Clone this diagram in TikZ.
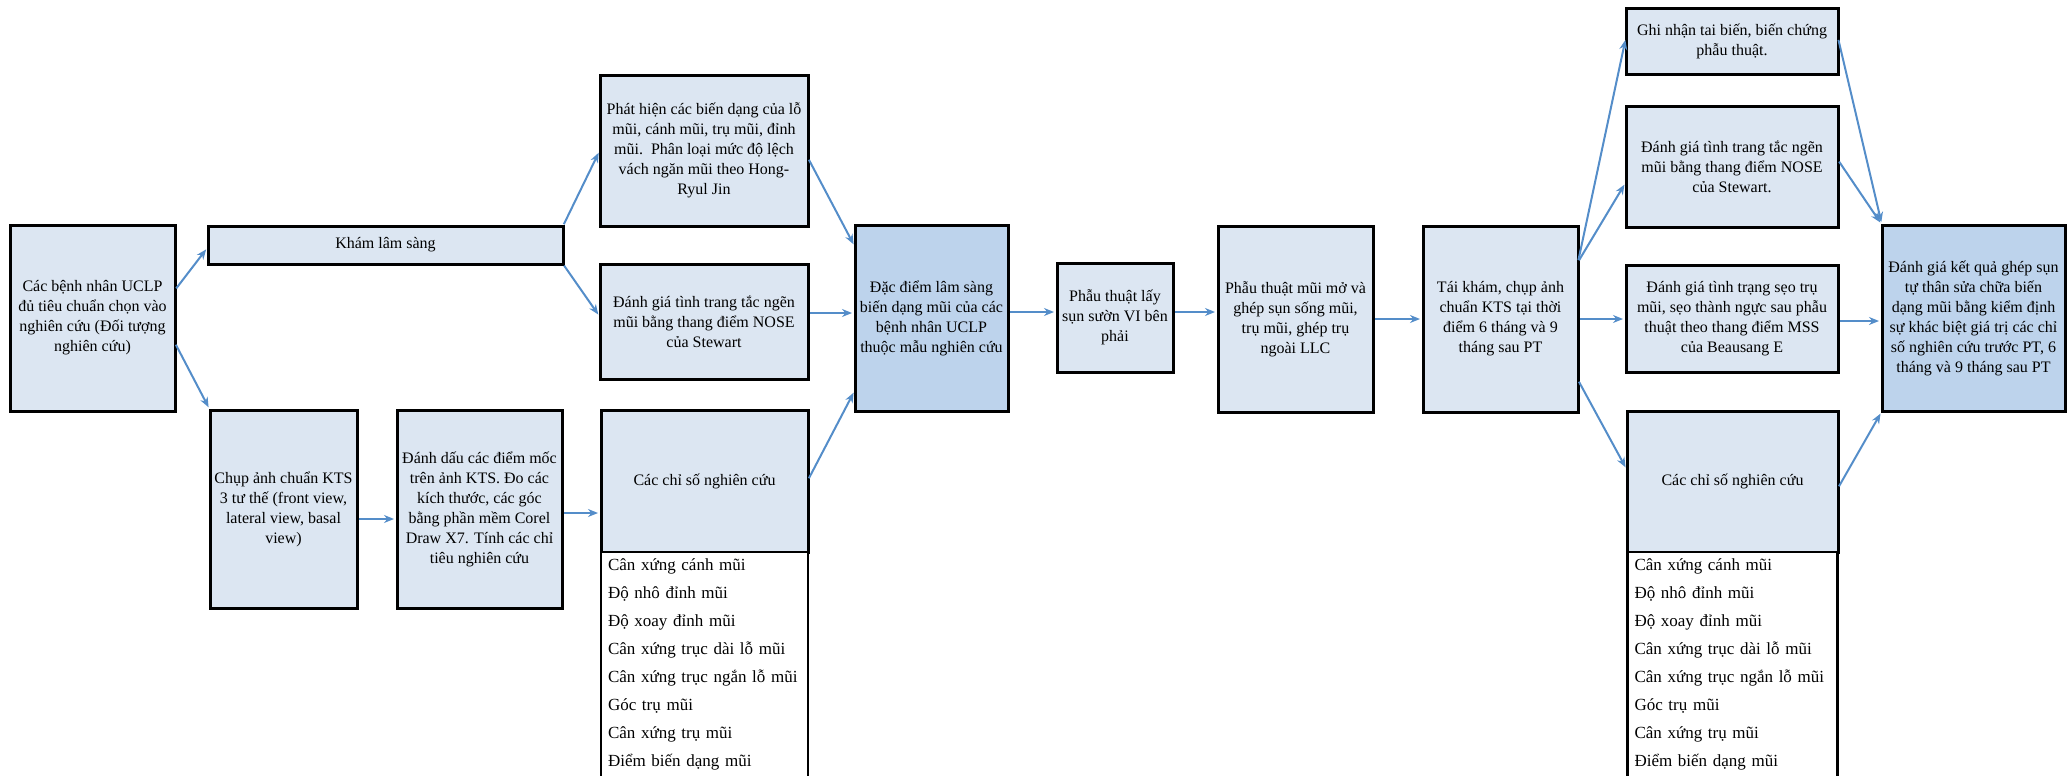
\documentclass[tikz,border=0pt]{standalone}
\usepackage{fontspec}
\setmainfont{Liberation Serif}
\usetikzlibrary{arrows.meta,positioning}
\definecolor{boxblue}{RGB}{220,230,242}
\definecolor{boxdark}{RGB}{189,211,236}
\definecolor{arrblue}{RGB}{84,141,201}

\begin{document}
\begin{tikzpicture}[x=0.5pt, y=-0.5pt,
    >={Stealth[length=5pt,width=4pt]},
    hop/.style={draw, line width=1.5pt, fill=boxblue, align=center, inner sep=1pt,
        outer sep=0pt, font=\fontsize{8}{10}\selectfont},
    dark/.style={hop, fill=boxdark},
    sz/.style 2 args={minimum width=#1*0.5pt, minimum height=#2*0.5pt},
    liste/.style={draw, line width=1.2pt, fill=white, align=left, outer sep=0pt,
        inner xsep=3.5pt, text width=96.5pt, minimum height=111.5pt,
        font=\fontsize{8.5}{14}\selectfont},
    arr/.style={->, arrblue, line width=1pt, shorten >=1.5pt, shorten <=1pt}]

    \useasboundingbox (0,0) rectangle (2069,776);

    % dau vao
    \node[hop, sz={165}{186}] (benhnhan) at (92.5,318)
        {Các bệnh nhân UCLP\\đủ tiêu chuẩn chọn vào\\nghiên cứu (Đối tượng\\nghiên cứu)};
    \node[hop, sz={355}{38}] (kham) at (385.5,245) {Khám lâm sàng};
    \node[hop, sz={147}{198}] (chup) at (283.5,509)
        {Chụp ảnh chuẩn KTS\\3 tư thế (front view,\\lateral view, basal\\view)};
    \node[hop, sz={165}{198}] (danhdau) at (479.5,509)
        {Đánh dấu các điểm mốc\\trên ảnh KTS. Đo các\\kích thước, các góc\\bằng phần mềm Corel\\Draw X7. Tính các chỉ\\tiêu nghiên cứu};

    % truoc phau thuat
    \node[hop, sz={208}{151}] (phathien) at (704,150.5)
        {Phát hiện các biến dạng của lỗ\\mũi, cánh mũi, trụ mũi, đỉnh\\mũi.\ \ Phân loại mức độ lệch\\vách ngăn mũi theo Hong-\\Ryul Jin};
    \node[hop, sz={208}{115}] (nose1) at (704,321.5)
        {Đánh giá tình trang tắc ngẽn\\mũi bằng thang điểm NOSE\\của Stewart};
    \node[hop, sz={207}{142}] (chiso1) at (704.5,481) {Các chỉ số nghiên cứu};
    \node[liste, below=0pt of chiso1] (ds1)
        {Cân xứng cánh mũi\\Độ nhô đỉnh mũi\\Độ xoay đỉnh mũi\\Cân xứng trục dài lỗ mũi\\Cân xứng trục ngắn lỗ mũi\\Góc trụ mũi\\Cân xứng trụ mũi\\Điểm biến dạng mũi};
    \node[dark, sz={153}{186}] (dacdiem) at (931.5,318)
        {Đặc điểm lâm sàng\\biến dạng mũi của các\\bệnh nhân UCLP\\thuộc mẫu nghiên cứu};

    % phau thuat
    \node[hop, sz={116}{109}] (laysun) at (1115,317.5)
        {Phẫu thuật lấy\\sụn sườn VI bên\\phải};
    \node[hop, sz={155}{186}] (mumo) at (1295.5,319)
        {Phẫu thuật mũi mở và\\ghép sụn sống mũi,\\trụ mũi, ghép trụ\\ngoài LLC};
    \node[hop, sz={155}{186}] (taikham) at (1500.5,319)
        {Tái khám, chụp ảnh\\chuẩn KTS tại thời\\điểm 6 tháng và 9\\tháng sau PT};

    % sau phau thuat
    \node[hop, sz={212}{66}] (ghinhan) at (1732,41)
        {Ghi nhận tai biến, biến chứng\\phẫu thuật.};
    \node[hop, sz={212}{121}] (nose2) at (1732,166.5)
        {Đánh giá tình trang tắc ngẽn\\mũi bằng thang điểm NOSE\\của Stewart.};
    \node[hop, sz={212}{107}] (mss) at (1732,318.5)
        {Đánh giá tình trạng sẹo trụ\\mũi, sẹo thành ngực sau phẫu\\thuật theo thang điểm MSS\\của Beausang E};
    \node[hop, sz={211}{141}] (chiso2) at (1732.5,481.5) {Các chỉ số nghiên cứu};
    \node[liste, text width=98pt, below=0pt of chiso2] (ds2)
        {Cân xứng cánh mũi\\Độ nhô đỉnh mũi\\Độ xoay đỉnh mũi\\Cân xứng trục dài lỗ mũi\\Cân xứng trục ngắn lỗ mũi\\Góc trụ mũi\\Cân xứng trụ mũi\\Điểm biến dạng mũi};
    \node[dark, sz={183}{186}] (ketqua) at (1973.5,318)
        {Đánh giá kết quả ghép sụn\\tự thân sửa chữa biến\\dạng mũi bằng kiểm định\\sự khác biệt giá trị các chỉ\\số nghiên cứu trước PT, 6\\tháng và 9 tháng sau PT};

    % mui ten
    \draw[arr] (benhnhan.east |- 0,290) -- (kham.west |- 0,247);
    \draw[arr] (benhnhan.east |- 0,343) -- (chup.north west);
    \draw[arr] (chup.east |- 0,519) -- (danhdau.west |- 0,519);
    \draw[arr] (danhdau.east |- 0,513) -- (chiso1.west |- 0,513);
    \draw[arr] (kham.north east) -- (phathien.west |- 0,150);
    \draw[arr] (kham.south east) -- (nose1.west |- 0,317);
    \draw[arr] (phathien.east |- 0,158) -- (dacdiem.west |- 0,247);
    \draw[arr] (nose1.east |- 0,313) -- (dacdiem.west |- 0,313);
    \draw[arr] (chiso1.east |- 0,480) -- (dacdiem.west |- 0,390);
    \draw[arr] (dacdiem.east |- 0,312) -- (laysun.west |- 0,312);
    \draw[arr] (laysun.east |- 0,312) -- (mumo.west |- 0,312);
    \draw[arr] (mumo.east |- 0,319) -- (taikham.west |- 0,319);
    \draw[arr] (taikham.east |- 0,262) -- (ghinhan.west |- 0,37);
    \draw[arr] (taikham.east |- 0,262) -- (nose2.west |- 0,182);
    \draw[arr] (taikham.east |- 0,319) -- (mss.west |- 0,319);
    \draw[arr] (taikham.east |- 0,380) -- (chiso2.west |- 0,470);
    \draw[arr] (ghinhan.east |- 0,38) -- (ketqua.north west);
    \draw[arr] (nose2.east |- 0,160) -- (ketqua.north west);
    \draw[arr] (mss.east |- 0,321) -- (ketqua.west |- 0,321);
    \draw[arr] (chiso2.east |- 0,488) -- (ketqua.south west);
\end{tikzpicture}
\end{document}
